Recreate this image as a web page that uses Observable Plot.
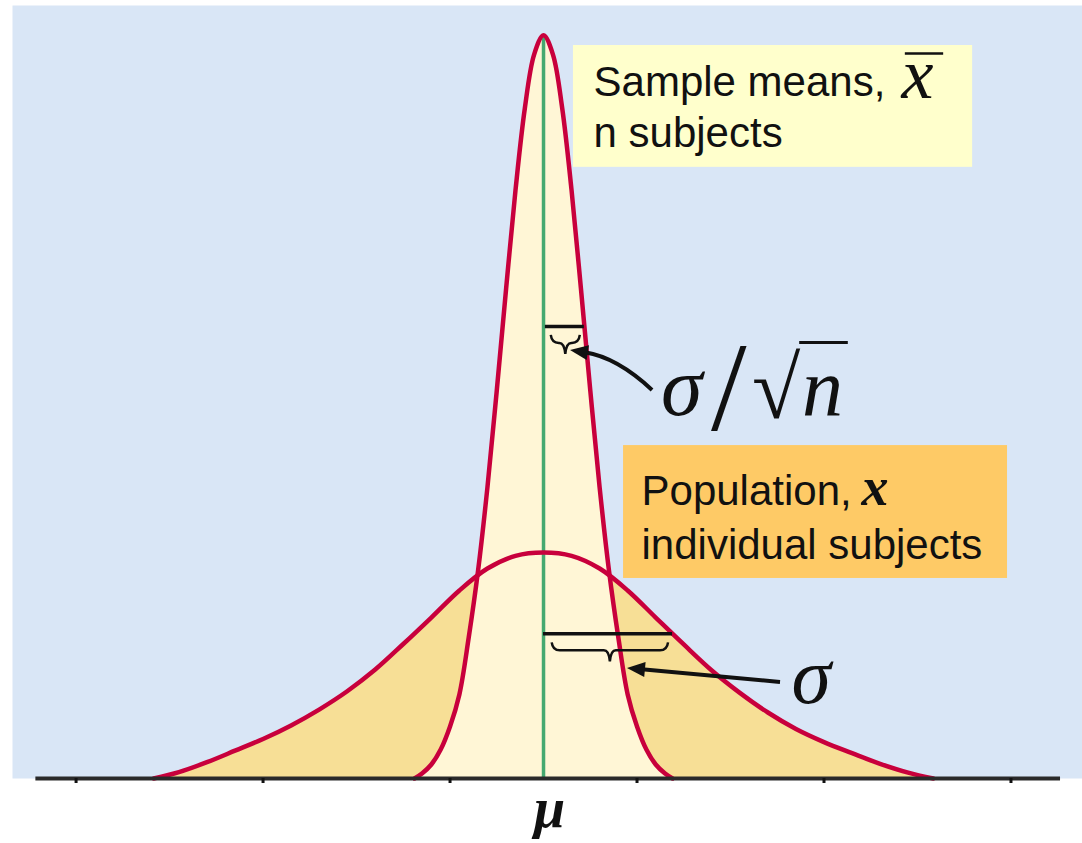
<!DOCTYPE html>
<html>
<head>
<meta charset="utf-8">
<script src="https://cdn.jsdelivr.net/npm/d3@7"></script>
<script src="https://cdn.jsdelivr.net/npm/@observablehq/plot@0.6"></script>
<style>
  html, body { margin: 0; padding: 0; background: #ffffff; }
  #chart svg { display: block; }
</style>
</head>
<body>
<div id="chart"></div>
<script>
// Position along the measurement axis (μ = 0) and relative density (population peak = 100)
const mu = 0;
const sigma = 138;      // population standard deviation
const n = 10;           // subjects per sample
const axisTicks = [-500, -300, -100, 100, 300, 500];

// Population distribution of individual values x
const popX = [-417, -390, -360, -330, -300, -270, -240, -210, -180, -150, -120, -90, -60, -30, 0,
              30, 60, 90, 120, 150, 180, 210, 240, 270, 300, 330, 360, 390, 417];
const popY = [0, 2.8, 7.2, 12.3, 17.5, 23.5, 30.5, 38.6, 48.2, 59.5, 71.2, 83.2, 92.9, 98.5, 100,
              98.5, 92.9, 83.2, 71.2, 59.3, 47.8, 37.9, 29.2, 21.9, 16.1, 11.2, 6.5, 2.6, 0];

// Sampling distribution of the mean x̄ of n subjects
const meanX = [-138, -130, -120, -110, -100, -90, -80, -70, -60, -50, -40, -30, -20, -10, 0,
               10, 20, 30, 40, 50, 60, 70, 80, 90, 100, 110, 120, 130, 138];
const meanY = [0, 2.2, 6.2, 12.8, 23.0, 37.2, 62.4, 92.0, 128.8, 171.7, 216.8, 260.2, 296.5, 320.4, 328.8,
               320.4, 296.5, 260.2, 216.8, 171.7, 128.8, 92.0, 62.4, 37.2, 23.0, 12.8, 6.2, 2.2, 0];

const popTable = popX.map((x, i) => ({x, y: popY[i]}));
const meanTable = meanX.map((x, i) => ({x, y: meanY[i]}));
const meanPeak = d3.max(meanY);
const sem = sigma / Math.sqrt(n);

const red = "#c8003c";
const ink = "#111111";
const sans = "Liberation Sans, Arial, sans-serif";
const serif = "Liberation Serif, Times New Roman, serif";

// Curly brace drawn under a width bar, from x0 to x1 at density level yv
function brace(x0, x1, yv) {
  return (index, scales) => {
    const X0 = scales.x(x0), X1 = scales.x(x1), Y = scales.y(yv), Xm = (X0 + X1) / 2;
    const d = `M${X0 + 4},${Y + 9} Q${X0 + 5},${Y + 17} ${X0 + 12},${Y + 17} L${Xm - 6},${Y + 17}` +
              ` Q${Xm - 1},${Y + 17} ${Xm},${Y + 28} Q${Xm + 1},${Y + 17} ${Xm + 6},${Y + 17}` +
              ` L${X1 - 12},${Y + 17} Q${X1 - 5},${Y + 17} ${X1 - 4},${Y + 9}`;
    return d3.create("svg:path")
      .attr("d", d).attr("fill", "none").attr("stroke", ink).attr("stroke-width", 2.5)
      .node();
  };
}

// Pointer with a filled head; bend pushes the shaft sideways (pixels, + is to the left of travel)
function pointer(x1, y1, x2, y2, bend = 0) {
  return (index, scales) => {
    const X1 = scales.x(x1), Y1 = scales.y(y1), X2 = scales.x(x2), Y2 = scales.y(y2);
    const len = Math.hypot(X2 - X1, Y2 - Y1);
    const nx = (Y2 - Y1) / len, ny = -(X2 - X1) / len;
    const cx = (X1 + X2) / 2 + nx * bend, cy = (Y1 + Y2) / 2 + ny * bend;
    const tl = Math.hypot(X2 - cx, Y2 - cy);
    const ux = (X2 - cx) / tl, uy = (Y2 - cy) / tl;
    const headLen = 18, headHalf = 7.5;
    const bx = X2 - ux * headLen, by = Y2 - uy * headLen;
    const g = d3.create("svg:g");
    g.append("path")
      .attr("d", `M${X1},${Y1} Q${cx},${cy} ${bx + ux * 3},${by + uy * 3}`)
      .attr("fill", "none").attr("stroke", ink).attr("stroke-width", 4);
    g.append("path")
      .attr("d", `M${X2},${Y2} L${bx - uy * headHalf},${by + ux * headHalf} L${bx + uy * headHalf},${by - ux * headHalf} Z`)
      .attr("fill", ink);
    return g.node();
  };
}

// σ/√n written as one text element
function formula(x, y) {
  return (index, scales) => {
    const X = scales.x(x), Y = scales.y(y);
    const t = d3.create("svg:text").attr("font-family", serif).attr("fill", ink).attr("text-anchor", "start");
    t.append("tspan").attr("x", X).attr("y", Y).attr("font-size", 84).attr("font-style", "italic").text("σ");
    t.append("tspan").attr("x", X + 50).attr("y", Y + 15).attr("font-size", 128).text("/");
    t.append("tspan").attr("x", X + 91).attr("y", Y + 3).attr("font-size", 88).text("√");
    t.append("tspan").attr("x", X + 141).attr("y", Y).attr("font-size", 82).attr("font-style", "italic").text("n");
    return t.node();
  };
}

function label(text, x, y, opts = {}) {
  return Plot.text([text], {x: () => x, y: () => y, text: d => d, textAnchor: "start", lineAnchor: "bottom",
    fontSize: 42, fontFamily: sans, fill: ink, ...opts});
}

const chart = Plot.plot({
  width: 1082,
  height: 843,
  marginLeft: 12,
  marginRight: 0,
  marginTop: 5,
  marginBottom: 65,
  x: {domain: [-568, 576.5], axis: null},
  y: {domain: [0, 342], axis: null},
  style: {background: "#ffffff", overflow: "visible"},
  marks: [
    Plot.frame({fill: "#d9e6f6", stroke: null}),
    // filled distributions
    Plot.areaY(popTable, {x: "x", y: "y", fill: "#f7df96", curve: "catmull-rom"}),
    Plot.areaY(meanTable, {x: "x", y: "y", fill: "#fff6d6", curve: "catmull-rom"}),
    // mean line
    Plot.ruleX([mu], {y1: 0, y2: meanPeak, stroke: "#45a970", strokeWidth: 3.5}),
    // outlines
    Plot.line(popTable, {x: "x", y: "y", stroke: red, strokeWidth: 4.5, curve: "catmull-rom"}),
    Plot.line(meanTable, {x: "x", y: "y", stroke: red, strokeWidth: 4.5, curve: "catmull-rom"}),
    // spread markers
    Plot.ruleY([200], {x1: mu + 2, x2: mu + sem, stroke: ink, strokeWidth: 3.5}),
    brace(mu + 4, mu + sem, 200),
    Plot.ruleY([64], {x1: mu, x2: mu + sigma, stroke: ink, strokeWidth: 3.5}),
    brace(mu + 5, mu + sigma, 64),
    // baseline axis
    Plot.ruleY([0], {x1: -543, x2: 553, stroke: "#2a2a2a", strokeWidth: 4}),
    Plot.axisX({ticks: axisTicks, tickSize: 5, tickFormat: () => "", label: null, stroke: ink, strokeWidth: 3}),
    Plot.text(["μ"], {x: () => mu, frameAnchor: "bottom", dx: 6, dy: 48, lineAnchor: "bottom", text: d => d,
      fontSize: 56, fontFamily: serif, fontStyle: "italic", fontWeight: "bold", fill: ink}),
    // sampling distribution label
    Plot.rect([0], {x1: 32, x2: 459, y1: 270.4, y2: 324.3, fill: "#ffffcc"}),
    label("Sample means,", 53.5, 301.8),
    label("n subjects", 53.5, 279.6),
    label("x", 383, 300.9, {fontSize: 72, fontFamily: serif, fontStyle: "italic"}),
    Plot.ruleY([320.8], {x1: 387, x2: 428, stroke: ink, strokeWidth: 2.5}),
    // population label
    Plot.rect([0], {x1: 85.6, x2: 496.3, y1: 88.5, y2: 147.3, fill: "#feca66"}),
    label("Population,", 104.8, 120.8),
    label("individual subjects", 104.8, 97.3),
    label("x", 340.1, 120.8, {fontSize: 54, fontFamily: serif, fontStyle: "italic", fontWeight: "bold"}),
    // σ/√n annotation
    formula(126.2, 160.6),
    Plot.ruleY([192.9], {x1: 274, x2: 326, stroke: ink, strokeWidth: 3}),
    pointer(116.6, 171.7, 28.9, 189.4, -14),
    // σ annotation
    label("σ", 265.2, 33.6, {fontSize: 80, fontFamily: serif, fontStyle: "italic"}),
    pointer(253.5, 42.5, 89.8, 48.7)
  ]
});

document.getElementById("chart").append(chart);
</script>
</body>
</html>
